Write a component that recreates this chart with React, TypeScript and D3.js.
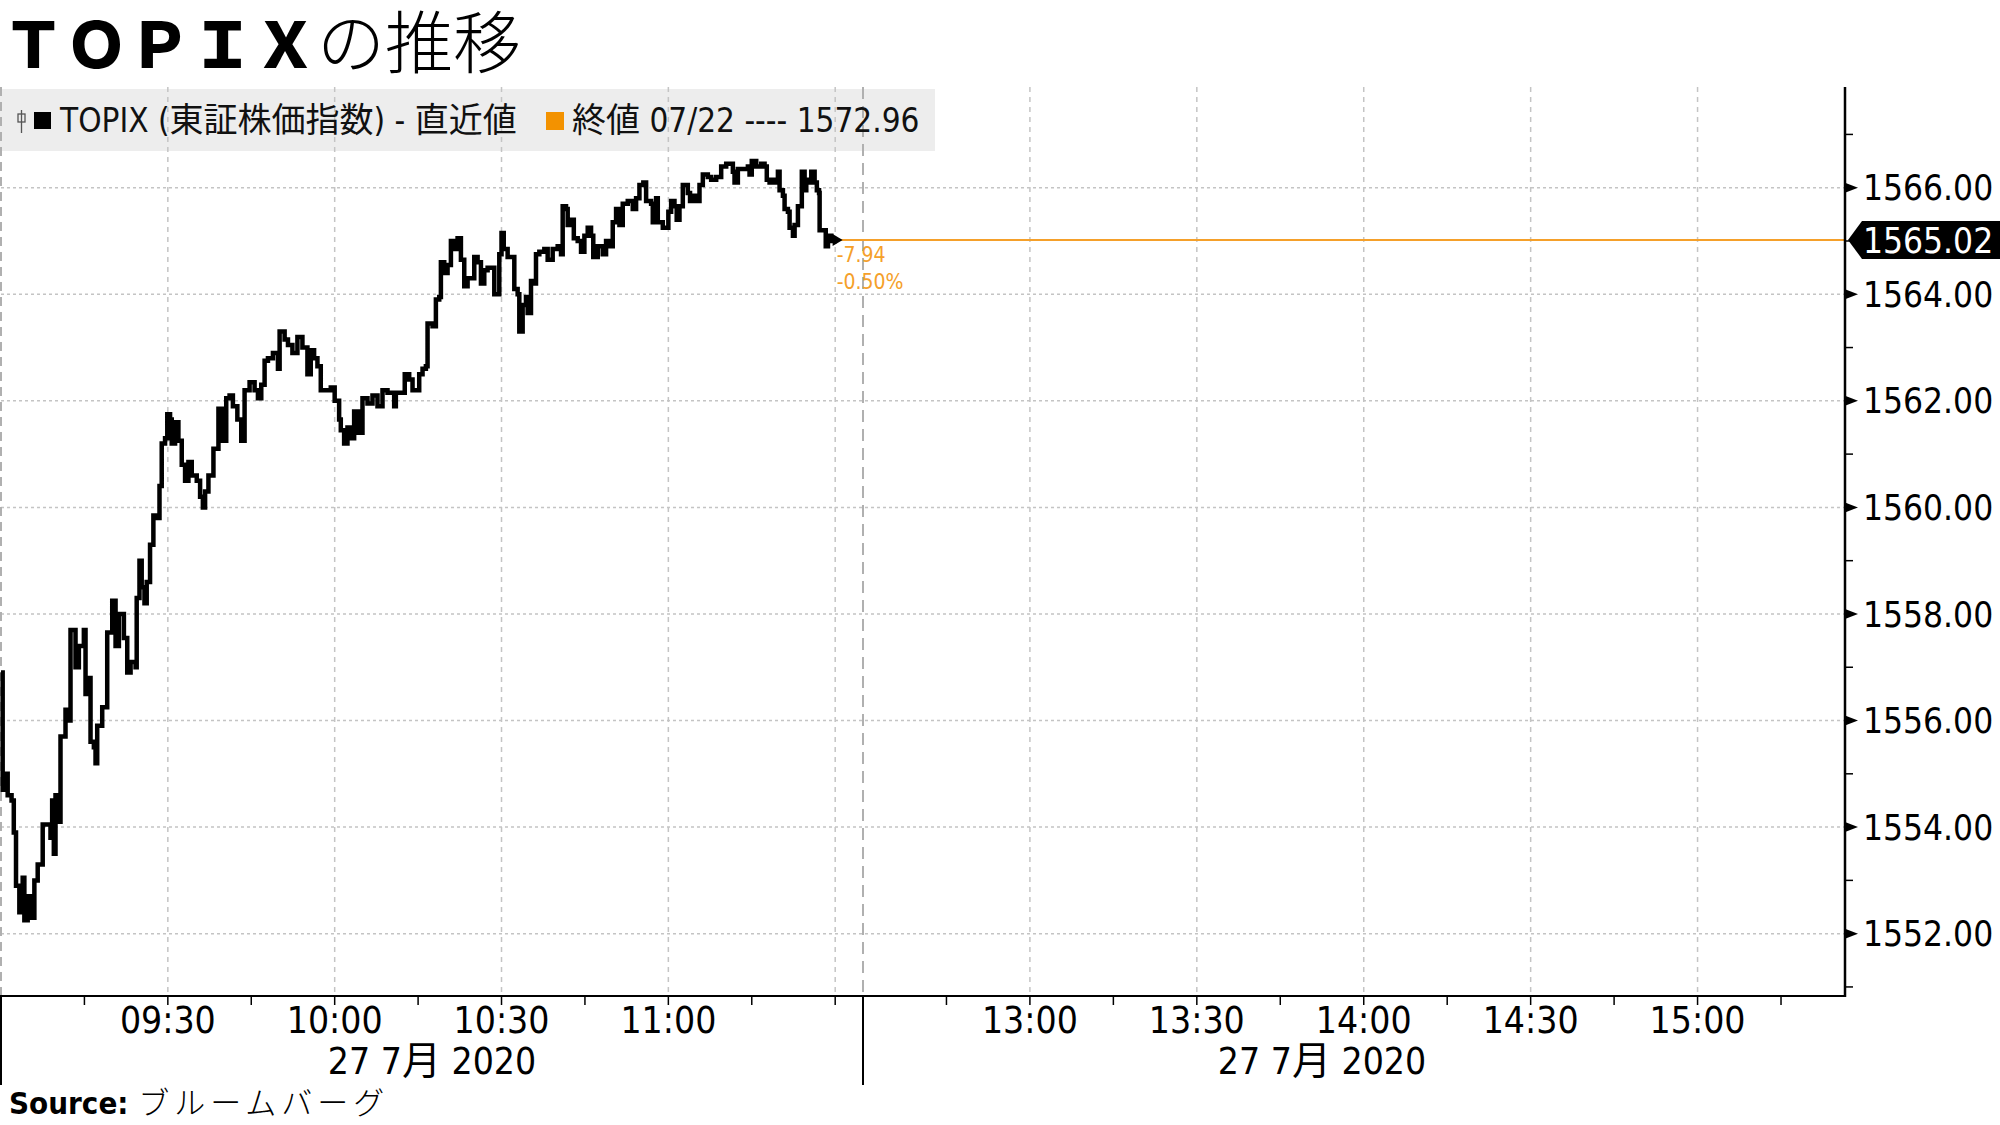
import React, { useEffect, useRef } from "react";
import * as d3 from "d3";

// minutes after the 09:00 open
const minutesFromOpen = [
  0.0, 0.3, 0.9, 1.2, 1.9, 2.3, 2.7, 3.3, 3.9, 4.2, 4.8, 5.4, 6.0, 6.6, 7.5, 8.9, 9.2, 9.5, 9.8, 10.4,
  10.7, 11.6, 11.9, 12.5, 13.4, 14.0, 14.9, 15.2, 15.8, 16.1, 16.7, 17.0, 17.3, 18.2, 19.1, 20.0, 20.6, 21.2, 22.1, 22.7,
  23.3, 24.2, 24.4, 24.9, 25.3, 25.8, 26.2, 26.8, 27.4, 28.0, 28.5, 28.9, 29.5, 29.9, 30.4, 30.7, 31.3, 31.9, 32.5, 33.1,
  33.7, 34.3, 35.2, 35.8, 36.3, 36.7, 37.3, 38.2, 39.1, 39.7, 40.5, 41.1, 41.7, 42.5, 43.2, 43.8, 44.7, 45.6, 46.2, 46.8,
  47.4, 48.0, 48.9, 49.8, 50.1, 51.0, 51.6,
  52.4, 53.3, 54.2, 55.1, 55.7, 56.3, 56.9, 57.5, 59.3, 60.0, 60.8, 61.1, 61.7, 62.3, 62.9, 63.5, 64.2, 65.0, 65.9, 66.8,
  67.7, 68.6, 69.5, 70.7, 71.0, 72.6, 73.4, 74.0, 75.2, 75.8, 76.4, 76.7, 77.6, 78.2, 78.8, 79.1, 79.7, 80.3, 80.9, 81.5,
  82.1, 82.7, 83.3, 83.9, 85.1, 85.7, 86.3, 86.9, 87.5, 88.7, 89.6, 90.0, 90.4, 91.1, 92.3, 92.9, 93.2, 93.8, 94.4, 94.7,
  95.3, 95.9, 96.2, 96.8, 97.7, 98.3, 99.2, 100.1, 100.7, 101.0, 101.6, 101.9, 102.5, 103.0, 103.7,
  104.3, 104.9, 105.5, 106.1, 106.5, 107.3, 108.2, 108.8, 109.4, 110.0, 110.6, 111.2, 111.8, 112.7, 113.6, 114.2, 114.8, 115.5, 116.0, 116.9,
  117.2, 117.8, 118.1, 119.0, 120.0, 120.5, 121.1, 121.5, 122.0, 122.6, 123.5, 123.9, 124.7, 125.3, 125.6, 126.2, 127.1, 127.7, 128.6, 129.5,
  130.4, 131.6, 131.9, 132.5, 133.4, 134.3, 134.6, 135.0, 135.8, 136.7, 137.3, 137.7, 138.2, 138.8, 139.4, 139.7, 140.0, 140.6, 140.9, 141.5,
  141.8, 142.4, 142.7, 143.3, 144.0, 144.5, 144.8, 145.3, 145.7, 146.3, 146.7, 147.1, 147.2, 147.8, 148.3, 148.7, 149.3, 149.9,
];

const topixValues = [
  1556.9, 1554.7, 1555.0, 1554.6, 1554.5, 1553.9, 1552.9, 1552.4, 1553.05, 1552.25, 1552.7, 1552.3, 1553.0, 1553.3, 1554.05, 1553.8, 1554.5, 1553.5, 1554.6, 1554.1,
  1555.7, 1556.2, 1556.0, 1557.7, 1557.0, 1557.4, 1557.7, 1556.5, 1556.8, 1555.6, 1555.5, 1555.2, 1555.9, 1556.25, 1557.65, 1558.25, 1557.4, 1558.0, 1557.55, 1556.9,
  1557.1, 1557.0, 1558.3, 1559.0, 1558.5, 1558.2, 1558.6, 1559.3, 1559.85, 1559.8, 1560.4, 1561.2, 1561.3, 1561.75, 1561.65, 1561.2, 1561.6, 1561.25, 1560.8, 1560.5,
  1560.85, 1560.6, 1560.5, 1560.2, 1560.0, 1560.3, 1560.6, 1561.1, 1561.85, 1561.25, 1562.05, 1562.1, 1561.9, 1561.65, 1561.25, 1562.2, 1562.35, 1562.2, 1562.05, 1562.3,
  1562.75, 1562.8, 1562.9, 1562.6, 1563.3, 1563.15, 1563.05,
  1562.9, 1563.2, 1563.0, 1562.5, 1562.95, 1562.8, 1562.65, 1562.2, 1562.25, 1562.0, 1561.65, 1561.45, 1561.2, 1561.5, 1561.3, 1561.8, 1561.4, 1562.05, 1561.95, 1562.1,
  1561.9, 1562.2, 1562.15, 1561.9, 1562.15, 1562.5, 1562.4, 1562.2, 1562.5, 1562.6, 1562.65, 1563.45, 1563.4, 1563.9, 1563.95, 1564.6, 1564.4, 1564.55, 1565.0, 1564.85,
  1565.05, 1564.65, 1564.15, 1564.3, 1564.7, 1564.6, 1564.2, 1564.45, 1564.5, 1564.0, 1564.75, 1565.15, 1564.85, 1564.7, 1564.1, 1564.0, 1563.3, 1563.8, 1563.95, 1563.65,
  1564.25, 1564.2, 1564.75, 1564.8, 1564.85, 1564.65, 1564.85, 1564.9, 1564.75, 1565.65, 1565.6, 1565.3, 1565.4, 1565.05, 1565.0,
  1564.8, 1565.1, 1565.25, 1565.1, 1564.7, 1564.9, 1564.75, 1565.0, 1564.9, 1565.35, 1565.6, 1565.3, 1565.7, 1565.75, 1565.6, 1565.8, 1566.05, 1566.1, 1565.75, 1565.7,
  1565.35, 1565.8, 1565.35, 1565.25, 1565.55, 1565.75, 1565.65, 1565.4, 1565.65, 1566.05, 1565.9, 1565.75, 1565.85, 1565.75, 1566.05, 1566.25, 1566.2, 1566.15, 1566.2, 1566.4,
  1566.45, 1566.3, 1566.1, 1566.35, 1566.35, 1566.4, 1566.25, 1566.5, 1566.4, 1566.45, 1566.4, 1566.15, 1566.1, 1566.15, 1566.1, 1566.3, 1565.95, 1565.85, 1565.6, 1565.55,
  1565.25, 1565.1, 1565.3, 1565.65, 1566.3, 1565.95, 1566.15, 1566.1, 1566.3, 1566.1, 1565.95, 1565.9, 1565.2, 1565.2, 1564.9, 1565.1, 1565.0, 1565.02,
];

const lastValue = 1565.02;
const prevClose = 1572.96;
const prevCloseDate = "07/22";
const changeText = "-7.94";
const changePctText = "-0.50%";

const yMajorTicks = [1552, 1554, 1556, 1558, 1560, 1562, 1564, 1566];
const yMinorTicks = [1551, 1553, 1555, 1557, 1559, 1561, 1563, 1565, 1567];

// session boundaries (hh, mm, ss)
const sessionBreaks = [[9, 0, 0], [11, 35, 0], [12, 30, 0], [15, 26, 30]];
const gridTimes = ["09:30", "10:00", "10:30", "11:00", "11:30", "13:00", "13:30", "14:00", "14:30", "15:00"];
const labelTimes = ["09:30", "10:00", "10:30", "11:00", "13:00", "13:30", "14:00", "14:30", "15:00"];
const tickTimes = [
  "09:15", "09:30", "09:45", "10:00", "10:15", "10:30", "10:45", "11:00", "11:15", "11:30",
  "12:45", "13:00", "13:15", "13:30", "13:45", "14:00", "14:15", "14:30", "14:45", "15:00", "15:15",
];
const dateDay = "27 7";
const dateMonth = "月";
const dateYear = " 2020";

const LAT = "'DejaVu Sans Condensed', 'DejaVu Sans', 'Noto Sans CJK JP', sans-serif";
const CJK = "'Noto Sans CJK JP', sans-serif";
const ORANGE = "#f5a02a";

const at = (h, m, s = 0) => new Date(2020, 6, 27, h, m, s);
const parseHM = (t) => {
  const [h, m] = t.split(":").map(Number);
  return at(h, m);
};

const App = () => {
  const svgRef = useRef();

  useEffect(() => {
    const svg = d3.select(svgRef.current);
    svg.selectAll("*").remove();

    const left = 1, right = 1845, top = 87, bottom = 996;
    const open = at(9, 0);

    const x = d3
      .scaleTime()
      .domain(sessionBreaks.map((b) => at(b[0], b[1], b[2])))
      .range([left, 863, 863, right]);
    const y = d3.scaleLinear().domain([1550.83, 1567.89]).range([bottom, top]);

    const data = minutesFromOpen.map((m, i) => ({
      t: new Date(open.getTime() + m * 60000),
      v: topixValues[i],
    }));

    // legend background (under grid)
    svg.append("rect").attr("x", 0).attr("y", 89).attr("width", 935).attr("height", 62)
      .attr("fill", "#ededed");

    // grid
    const grid = svg.append("g");
    grid.selectAll(".hg").data(yMajorTicks).join("line")
      .attr("x1", left).attr("x2", right)
      .attr("y1", (d) => y(d)).attr("y2", (d) => y(d))
      .attr("stroke", "#c4c4c4").attr("stroke-width", 1.5).attr("stroke-dasharray", "3,3");
    grid.selectAll(".vg").data(gridTimes).join("line")
      .attr("x1", (d) => x(parseHM(d))).attr("x2", (d) => x(parseHM(d)))
      .attr("y1", top).attr("y2", bottom)
      .attr("stroke", "#c4c4c4").attr("stroke-width", 1.5).attr("stroke-dasharray", "5,5");
    grid.append("line").attr("x1", left).attr("x2", left).attr("y1", top).attr("y2", bottom)
      .attr("stroke", "#b0b0b0").attr("stroke-width", 2).attr("stroke-dasharray", "9,6");
    grid.append("line").attr("x1", 863).attr("x2", 863).attr("y1", top).attr("y2", bottom)
      .attr("stroke", "#b0b0b0").attr("stroke-width", 2).attr("stroke-dasharray", "12,7");

    // last value line
    const last = data[data.length - 1];
    svg.append("line").attr("x1", x(last.t)).attr("x2", right)
      .attr("y1", y(lastValue)).attr("y2", y(lastValue))
      .attr("stroke", ORANGE).attr("stroke-width", 2);

    // price line
    const line = d3.line().x((d) => x(d.t)).y((d) => y(d.v)).curve(d3.curveStepAfter);
    svg.append("path").datum(data).attr("d", line)
      .attr("fill", "none").attr("stroke", "#000").attr("stroke-width", 4.5)
      .attr("stroke-linejoin", "miter");
    svg.append("path")
      .attr("d", `M${x(last.t) - 2},${y(lastValue) - 6} L${x(last.t) + 8},${y(lastValue)} L${x(last.t) - 2},${y(lastValue) + 6} Z`)
      .attr("fill", "#000");

    // change annotations
    svg.append("text").attr("x", x(last.t) + 2).attr("y", y(lastValue) + 22)
      .attr("font-family", LAT).attr("font-size", 21).attr("fill", ORANGE).text(changeText);
    svg.append("text").attr("x", x(last.t) + 2).attr("y", y(lastValue) + 49)
      .attr("font-family", LAT).attr("font-size", 21).attr("fill", ORANGE).text(changePctText);

    // x axis
    svg.append("line").attr("x1", 0).attr("x2", right + 1).attr("y1", bottom).attr("y2", bottom)
      .attr("stroke", "#000").attr("stroke-width", 2);
    svg.selectAll(".xt").data(tickTimes).join("line")
      .attr("x1", (d) => x(parseHM(d))).attr("x2", (d) => x(parseHM(d)))
      .attr("y1", bottom).attr("y2", bottom + 9)
      .attr("stroke", "#000").attr("stroke-width", 1.5);
    [left, 863].forEach((xx) => {
      svg.append("line").attr("x1", xx).attr("x2", xx).attr("y1", bottom).attr("y2", 1085)
        .attr("stroke", "#000").attr("stroke-width", 2);
    });
    svg.selectAll(".xl").data(labelTimes).join("text")
      .attr("x", (d) => x(parseHM(d))).attr("y", 1033)
      .attr("text-anchor", "middle").attr("font-family", LAT).attr("font-size", 37)
      .attr("fill", "#000").text((d) => d);
    const dateCenters = [
      (x(at(9, 0)) + x(at(11, 35))) / 2,
      (x(at(12, 30)) + x(at(15, 15))) / 2,
    ];
    dateCenters.forEach((cx) => {
      const t = svg.append("text").attr("x", cx).attr("y", 1074)
        .attr("text-anchor", "middle").attr("font-family", LAT).attr("font-size", 37)
        .attr("fill", "#000");
      t.append("tspan").text(dateDay);
      t.append("tspan").attr("font-family", CJK).attr("font-size", 39).text(dateMonth);
      t.append("tspan").text(dateYear);
    });

    // y axis
    svg.append("line").attr("x1", right).attr("x2", right).attr("y1", top).attr("y2", bottom + 1)
      .attr("stroke", "#000").attr("stroke-width", 2.5);
    svg.selectAll(".ymt").data(yMinorTicks).join("line")
      .attr("x1", right).attr("x2", right + 8)
      .attr("y1", (d) => y(d)).attr("y2", (d) => y(d))
      .attr("stroke", "#000").attr("stroke-width", 1.5);
    svg.selectAll(".yMt").data(yMajorTicks).join("path")
      .attr("d", (d) => `M${right},${y(d) - 5} L${right + 13},${y(d)} L${right},${y(d) + 5} Z`)
      .attr("fill", "#000");
    svg.selectAll(".yl").data(yMajorTicks).join("text")
      .attr("x", 1863).attr("y", (d) => y(d)).attr("dy", "0.36em")
      .attr("font-family", LAT).attr("font-size", 35).attr("fill", "#000")
      .text((d) => d3.format(".2f")(d));

    // last value tag
    const ly = y(lastValue);
    svg.append("path")
      .attr("d", `M${right + 3},${ly} L${right + 17},${ly - 19} L2000,${ly - 19} L2000,${ly + 19} L${right + 17},${ly + 19} Z`)
      .attr("fill", "#000");
    svg.append("text").attr("x", 1863).attr("y", ly).attr("dy", "0.36em")
      .attr("font-family", LAT).attr("font-size", 35).attr("fill", "#fff")
      .text(d3.format(".2f")(lastValue));

    // legend
    const lg = svg.append("g");
    lg.append("rect").attr("x", 18).attr("y", 114).attr("width", 7).attr("height", 8)
      .attr("fill", "none").attr("stroke", "#555").attr("stroke-width", 1.3);
    lg.append("line").attr("x1", 21.5).attr("x2", 21.5).attr("y1", 110).attr("y2", 133)
      .attr("stroke", "#555").attr("stroke-width", 1.3);
    lg.append("rect").attr("x", 34).attr("y", 112).attr("width", 17).attr("height", 17).attr("fill", "#000");
    const t1 = lg.append("text").attr("x", 60).attr("y", 132)
      .attr("font-family", LAT).attr("font-size", 33).attr("fill", "#111");
    t1.append("tspan").text("TOPIX (");
    t1.append("tspan").attr("font-family", CJK).attr("font-size", 34).text("東証株価指数");
    t1.append("tspan").text(") - ");
    t1.append("tspan").attr("font-family", CJK).attr("font-size", 34).text("直近値");
    lg.append("rect").attr("x", 546).attr("y", 112).attr("width", 18).attr("height", 18).attr("fill", "#f39200");
    const t2 = lg.append("text").attr("x", 572).attr("y", 132)
      .attr("font-family", LAT).attr("font-size", 33).attr("fill", "#111");
    t2.append("tspan").attr("font-family", CJK).attr("font-size", 34).text("終値");
    t2.append("tspan").text(` ${prevCloseDate} ---- ${d3.format(".2f")(prevClose)}`);

    // title
    const title = svg.append("text").attr("x", 2).attr("y", 68).attr("fill", "#000");
    title.append("tspan").attr("font-family", CJK).attr("font-weight", 900).attr("font-size", 63)
      .text("ＴＯＰＩＸ");
    title.append("tspan").attr("font-family", CJK).attr("font-weight", 300).attr("font-size", 68)
      .text("の推移");

    // source
    const src = svg.append("text").attr("x", 9).attr("y", 1114).attr("fill", "#000");
    src.append("tspan").attr("font-family", LAT).attr("font-weight", "bold").attr("font-size", 31)
      .text("Source: ");
    src.append("tspan").attr("font-family", CJK).attr("font-weight", 300).attr("font-size", 31)
      .attr("letter-spacing", 5).text("ブルームバーグ");
  }, []);

  return (
    <svg
      ref={svgRef}
      width={2000}
      height={1125}
      style={{ position: "absolute", left: 0, top: 0, background: "#fff" }}
    />
  );
};

export default App;
